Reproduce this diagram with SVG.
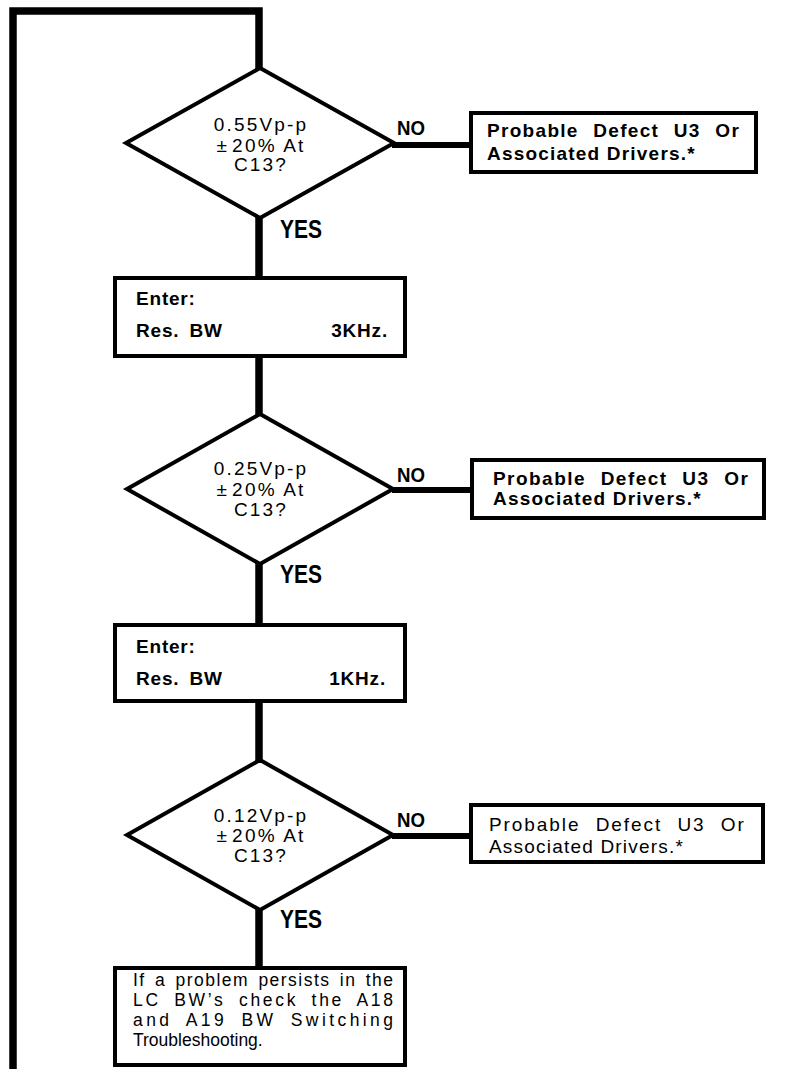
<svg xmlns="http://www.w3.org/2000/svg" width="785" height="1069" viewBox="0 0 785 1069">
<style>
.bg{fill:#fff}
.dia{fill:#fff;stroke:#000;stroke-width:4;stroke-linejoin:miter}
.box{fill:#fff;stroke:#000;stroke-width:4}
.con{fill:none;stroke:#000;stroke-width:7.5;stroke-linecap:butt;stroke-linejoin:miter}
.hcon{fill:none;stroke:#000;stroke-width:6}
.dt{font-family:"Liberation Sans",Arial,sans-serif;font-size:19px;letter-spacing:2.2px;text-anchor:middle;fill:#000}
.bt{font-family:"Liberation Sans",Arial,sans-serif;font-size:19px;font-weight:bold;letter-spacing:0.8px;word-spacing:4px;fill:#000}
.rt{font-family:"Liberation Sans",Arial,sans-serif;font-size:19px;letter-spacing:1.2px;fill:#000}
.b{font-weight:bold}
.lt{font-family:"Liberation Sans",Arial,sans-serif;font-size:17.5px;fill:#000}
.lab{font-family:"Liberation Sans",Arial,sans-serif;font-weight:bold;fill:#000}
</style>
<rect class="bg" x="0" y="0" width="785" height="1069"/>
<g id="connectors">
<path class="con" d="M13 1069 V11 H259 V70"/>
<path class="con" d="M259 216 V280"/>
<path class="con" d="M259 354 V416"/>
<path class="con" d="M259 562 V627"/>
<path class="con" d="M259 699 V762"/>
<path class="con" d="M259 908 V970"/>
<path class="hcon" d="M392 145 H471"/>
<path class="hcon" d="M392 490 H472"/>
<path class="hcon" d="M392 836 H471"/>
<text class="lab" x="397" y="135" font-size="21" textLength="28" lengthAdjust="spacingAndGlyphs">NO</text>
<text class="lab" x="397" y="482" font-size="21" textLength="28" lengthAdjust="spacingAndGlyphs">NO</text>
<text class="lab" x="397" y="827" font-size="21" textLength="28" lengthAdjust="spacingAndGlyphs">NO</text>
<text class="lab" x="280" y="238" font-size="25" textLength="42" lengthAdjust="spacingAndGlyphs">YES</text>
<text class="lab" x="280" y="583" font-size="25" textLength="42" lengthAdjust="spacingAndGlyphs">YES</text>
<text class="lab" x="280" y="928" font-size="25" textLength="42" lengthAdjust="spacingAndGlyphs">YES</text>
</g>
<g id="d1">
<polygon class="dia" points="260,68 394,143 260,218 126,143"/>
<text class="dt" x="261" y="131">0.55Vp-p</text>
<text class="dt" x="261" y="152">±<tspan dx="3">20% At</tspan></text>
<text class="dt" x="261" y="171">C13?</text>
</g>
<g id="n1">
<rect class="box" x="471" y="113" width="285" height="59"/>
<text class="rt b" x="487" y="137" textLength="253" lengthAdjust="spacing" word-spacing="8">Probable Defect U3 Or</text>
<text class="rt b" x="487" y="160">Associated Drivers.*</text>
</g>
<g id="b1">
<rect class="box" x="115" y="278" width="290" height="78"/>
<text class="bt" x="136" y="305">Enter:</text>
<text class="bt" x="136" y="337">Res. BW</text>
<text class="bt" x="388" y="337" text-anchor="end">3KHz.</text>
</g>
<g id="d2">
<polygon class="dia" points="260,414 393,489 260,564 127,489"/>
<text class="dt" x="261" y="475">0.25Vp-p</text>
<text class="dt" x="261" y="496">±<tspan dx="3">20% At</tspan></text>
<text class="dt" x="261" y="516">C13?</text>
</g>
<g id="n2">
<rect class="box" x="472" y="460" width="292" height="58"/>
<text class="rt b" x="493" y="485" textLength="256" lengthAdjust="spacing" word-spacing="8">Probable Defect U3 Or</text>
<text class="rt b" x="493" y="505">Associated Drivers.*</text>
</g>
<g id="b2">
<rect class="box" x="115" y="625" width="290" height="76"/>
<text class="bt" x="136" y="653">Enter:</text>
<text class="bt" x="136" y="685">Res. BW</text>
<text class="bt" x="386" y="685" text-anchor="end">1KHz.</text>
</g>
<g id="d3">
<polygon class="dia" points="260,760 393,835 260,910 127,835"/>
<text class="dt" x="261" y="822">0.12Vp-p</text>
<text class="dt" x="261" y="842">±<tspan dx="3">20% At</tspan></text>
<text class="dt" x="261" y="862">C13?</text>
</g>
<g id="n3">
<rect class="box" x="471" y="805" width="292" height="57"/>
<text class="rt" x="489" y="831" textLength="256" lengthAdjust="spacing" word-spacing="8">Probable Defect U3 Or</text>
<text class="rt" x="489" y="853">Associated Drivers.*</text>
</g>
<g id="b3">
<rect class="box" x="115" y="968" width="290" height="97"/>
<text class="lt" x="133" y="986" textLength="260" lengthAdjust="spacing" word-spacing="3">If a problem persists in the</text>
<text class="lt" x="133" y="1006" textLength="260" lengthAdjust="spacing" word-spacing="6">LC BW’s check the A18</text>
<text class="lt" x="133" y="1026" textLength="260" lengthAdjust="spacing" word-spacing="6">and A19 BW Switching</text>
<text class="lt" x="133" y="1046">Troubleshooting.</text>
</g>
</svg>
